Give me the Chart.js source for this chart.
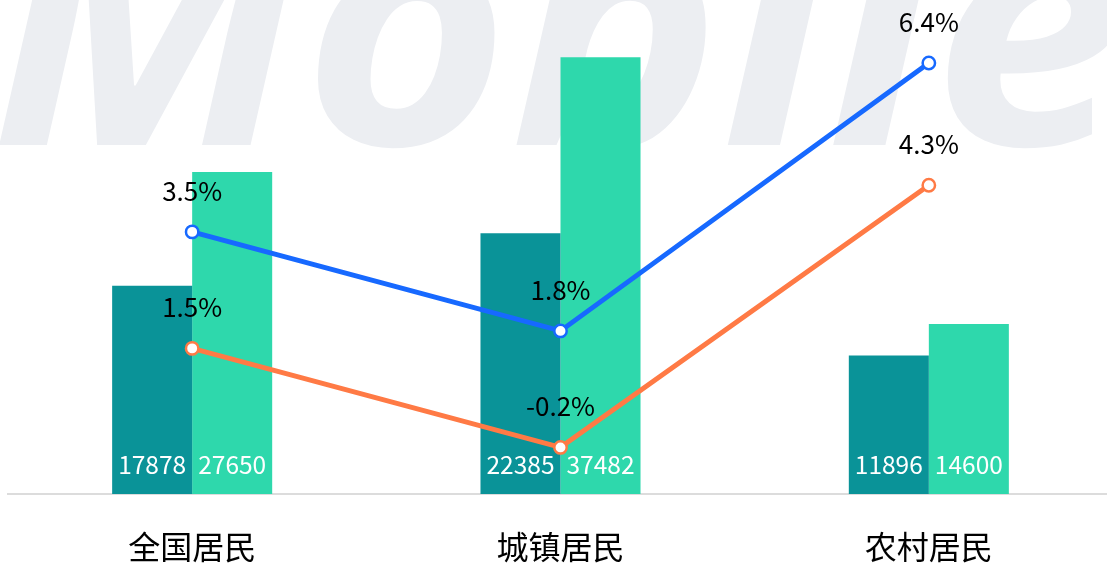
<!DOCTYPE html>
<html>
<head>
<meta charset="utf-8">
<script src="https://cdn.jsdelivr.net/npm/chart.js@4"></script>
<style>
  html, body { margin: 0; padding: 0; background: #fff; overflow: hidden; }
  canvas { display: block; }
</style>
</head>
<body>
<canvas id="combo" width="1113" height="565"></canvas>
<script>
const categories = ['全国居民', '城镇居民', '农村居民'];
const incomeA = [17878, 22385, 11896];
const incomeB = [27650, 37482, 14600];
const growthA = [3.5, 1.8, 6.4];
const growthB = [1.5, -0.2, 4.3];

const FONT = '"Noto Sans CJK SC", "Noto Sans", sans-serif';

// light watermark in the background
const watermark = {
  id: 'watermark',
  beforeDraw(chart) {
    const ctx = chart.ctx;
    ctx.save();
    ctx.font = 'italic bold 330px "Open Sans"';
    ctx.fillStyle = '#eceef2';
    ctx.textBaseline = 'alphabetic';
    const w = ctx.measureText('Mobile').width;
    ctx.translate(-10, 145);
    ctx.scale(1140 / w, 1);
    ctx.fillText('Mobile', 0, 0);
    ctx.restore();
  }
};

// numbers in bars and percent labels over points
const valueLabels = {
  id: 'valueLabels',
  afterDatasetsDraw(chart) {
    const ctx = chart.ctx;
    const bottom = chart.scales.x.top;
    ctx.save();
    ctx.textAlign = 'center';
    ctx.textBaseline = 'middle';
    chart.data.datasets.forEach((ds, i) => {
      const meta = chart.getDatasetMeta(i);
      meta.data.forEach((el, j) => {
        if (ds.type === 'bar') {
          ctx.font = '24.5px ' + FONT;
          ctx.fillStyle = '#ffffff';
          ctx.fillText(String(ds.data[j]), el.x, bottom - 29);
        } else {
          ctx.font = '26px ' + FONT;
          ctx.fillStyle = '#000000';
          ctx.fillText(ds.data[j].toFixed(1) + '%', el.x, el.y - 41);
        }
      });
    });
    ctx.restore();
  }
};

new Chart(document.getElementById('combo'), {
  data: {
    labels: categories,
    datasets: [
      {
        type: 'line',
        data: growthA,
        yAxisID: 'y1',
        borderColor: '#1769ff',
        borderWidth: 5,
        pointRadius: 6.2,
        pointBorderWidth: 2.5,
        pointBackgroundColor: '#ffffff',
        pointBorderColor: '#1769ff',
        tension: 0,
        order: 0
      },
      {
        type: 'line',
        data: growthB,
        yAxisID: 'y1',
        borderColor: '#ff7a45',
        borderWidth: 5,
        pointRadius: 6.2,
        pointBorderWidth: 2.5,
        pointBackgroundColor: '#ffffff',
        pointBorderColor: '#ff7a45',
        tension: 0,
        order: 0
      },
      {
        type: 'bar',
        data: incomeA,
        yAxisID: 'y',
        backgroundColor: '#0a9398',
        barPercentage: 1,
        categoryPercentage: 0.4345,
        order: 1
      },
      {
        type: 'bar',
        data: incomeB,
        yAxisID: 'y',
        backgroundColor: '#2ed8ac',
        barPercentage: 1,
        categoryPercentage: 0.4345,
        order: 1
      }
    ]
  },
  options: {
    responsive: false,
    animation: false,
    layout: { autoPadding: false, padding: { top: 28, left: 8, right: 0, bottom: 0 } },
    plugins: {
      legend: { display: false },
      tooltip: { enabled: false }
    },
    scales: {
      x: {
        grid: { display: false, drawTicks: false },
        border: { display: true, color: '#dcdcdc', width: 2 },
        ticks: { color: '#000', padding: 37, font: { family: FONT, size: 32, lineHeight: 1 } },
        afterFit(scale) { scale.height = 71; }
      },
      y: { display: false, min: 0, max: 40000 },
      y1: { display: false, min: -1, max: 7 }
    }
  },
  plugins: [watermark, valueLabels]
});
</script>
</body>
</html>
